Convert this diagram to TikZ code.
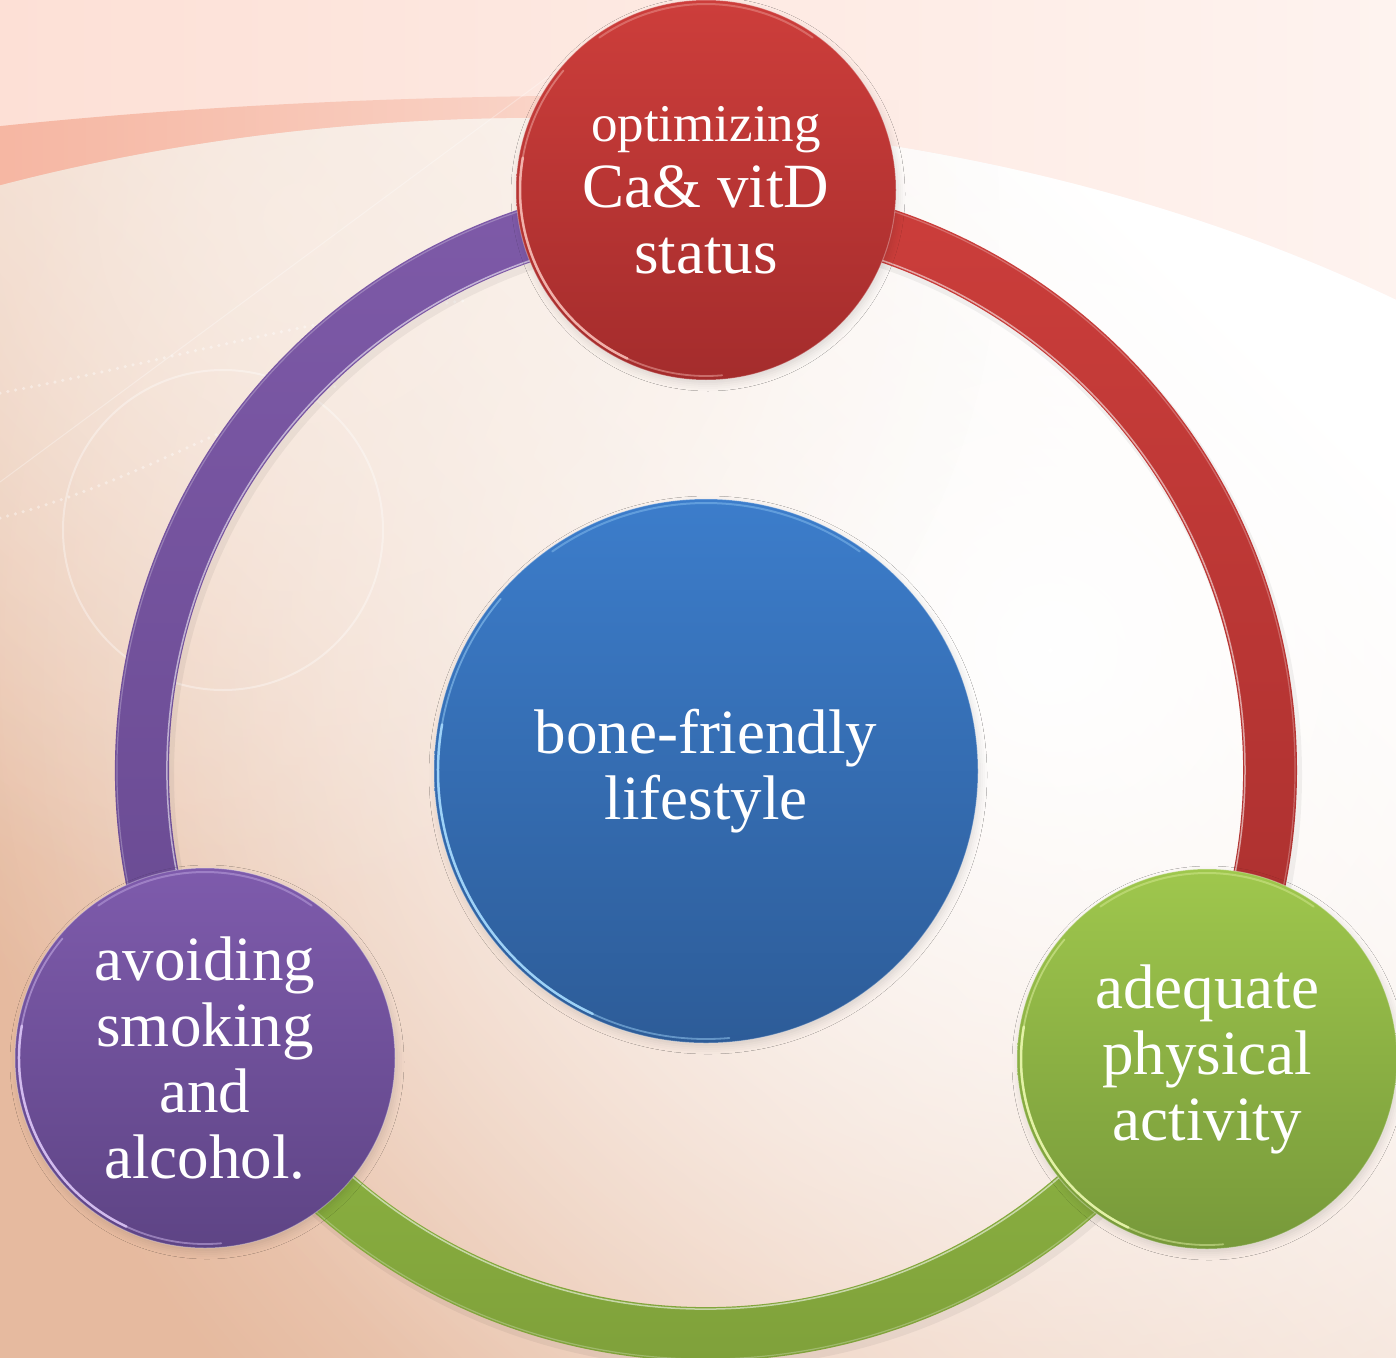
\documentclass[tikz,border=0pt]{standalone}
\usepackage{fontspec}
\setmainfont{Liberation Serif}
\usetikzlibrary{fadings,shadows.blur}

\definecolor{bgTL}{HTML}{FDE0D6}
\definecolor{bgTM}{HTML}{FCD0C2}
\definecolor{bgTR}{HTML}{FEF3EF}
\definecolor{bandC}{HTML}{F6B7A3}
\definecolor{peachC}{HTML}{E6BA9F}
\definecolor{creamC}{HTML}{F9EEE6}
\definecolor{redT}{HTML}{CD3E3B}
\definecolor{redB}{HTML}{A42C2C}
\definecolor{bluT}{HTML}{3C7DCB}
\definecolor{bluB}{HTML}{2D5C98}
\definecolor{purT}{HTML}{7E5BAC}
\definecolor{purB}{HTML}{5E4485}
\definecolor{grnT}{HTML}{9FC74D}
\definecolor{grnB}{HTML}{77993A}
\definecolor{ringRT}{HTML}{CC3E3B}
\definecolor{ringRB}{HTML}{A82F2E}
\definecolor{ringPT}{HTML}{7E5AA8}
\definecolor{ringPB}{HTML}{674990}
\definecolor{ringGT}{HTML}{8FB743}
\definecolor{ringGB}{HTML}{7B9B38}
\definecolor{hlBlue}{HTML}{A8DCFF}
\definecolor{hlRed}{HTML}{F7BDB6}
\definecolor{hlPur}{HTML}{DCC6F7}
\definecolor{hlGrn}{HTML}{ECF9B0}

\tikzfading[name=fadeR, left color=transparent!0, middle color=transparent!25, right color=transparent!100]
\tikzfading[name=glow, inner color=transparent!0, outer color=transparent!100]

\tikzset{
  bubble/.style={circle, inner sep=0pt, draw=white, draw opacity=.3, line width=1pt,
    text=white, align=center, font=\fontsize{63}{66}\selectfont,
    blur shadow={shadow xshift=2pt, shadow yshift=-4pt, shadow blur radius=7pt, shadow opacity=12}},
  small bubble/.style={bubble, minimum size=380pt},
  dotline/.style={white, opacity=.4, line width=3.5pt, line cap=round, dash pattern=on 0pt off 8pt},
  faint/.style={white, opacity=.35, line width=2pt},
}

\newcommand\ringseg[4]{%
  \shade[top color=#3, bottom color=#4] ([shift={(#1:591)}]ctr) arc[start angle=#1, end angle=#2, radius=591]
    -- ([shift={(#2:537)}]ctr) arc[start angle=#2, end angle=#1, radius=537] -- cycle;
  \draw[white, opacity=.55, line width=1.5pt] ([shift={(#1:539)}]ctr) arc[start angle=#1, end angle=#2, radius=539];
  \draw[white, opacity=.25, line width=1.2pt] ([shift={(#1:589)}]ctr) arc[start angle=#1, end angle=#2, radius=589];
}
\newcommand\myrim[3]{%
  \draw[#3, opacity=.85, line width=2.5pt, line cap=round] ([shift={(170:#2)}]#1.center) arc[start angle=170, end angle=245, radius=#2];
  \draw[#3, opacity=.45, line width=1.8pt, line cap=round] ([shift={(140:#2)}]#1.center) arc[start angle=140, end angle=275, radius=#2];
  \draw[#3, opacity=.35, line width=2pt, line cap=round] ([shift={(55:#2)}]#1.center) arc[start angle=55, end angle=125, radius=#2];
}

\begin{document}
\begin{tikzpicture}[x=1pt,y=1pt]
\useasboundingbox (0,0) rectangle (1396,-1357);
\begin{scope}
\clip (0,0) rectangle (1396,-1357);
% background
\shade[left color=bgTL, middle color=bgTM, right color=bgTR] (0,0) rectangle (1396,-1357);
\fill[bandC, path fading=fadeR] (0,-126) .. controls (250,-100) and (550,-88) .. (900,-100) -- (900,-420) -- (0,-420) -- cycle;
\begin{scope}
  \clip (540,-1018) ellipse [x radius=1420, y radius=900];
  \shade[top color=white, bottom color=peachC, shading angle=-45] (0,-100) rectangle (1396,-1357);
  \fill[white, path fading=glow] (1050,-650) circle (1100);
  \fill[creamC, path fading=glow, opacity=.7] (300,-220) circle (700);
\end{scope}
% faint decorations
\draw[dotline] (0,-393) .. controls (150,-365) and (300,-320) .. (470,-300);
\draw[dotline] (0,-518) .. controls (130,-485) and (230,-420) .. (340,-385);
\draw[faint] (223,-530) circle (160);
\draw[white, opacity=.3, line width=1pt] (0,-482) -- (549,-76);

% ring
\coordinate (ctr) at (706,-770);
\draw[black, opacity=.05, line width=58pt] ([shift={(3,-5)}]ctr) circle (564);
\ringseg{90}{-30}{ringRT}{ringRB}
\ringseg{-30}{-150}{ringGT}{ringGB}
\ringseg{-150}{-270}{ringPT}{ringPB}

% circles
\node[bubble, minimum size=544pt, top color=bluT, bottom color=bluB] (hub) at (706,-771)
  {bone-friendly\\lifestyle};
\myrim{hub}{268}{hlBlue}

\node[small bubble, top color=redT, bottom color=redB] (cavd) at (706,-190)
  {{\fontsize{53}{66}\selectfont optimizing}\\Ca\& vitD\\status};
\myrim{cavd}{186}{hlRed}

\node[small bubble, top color=grnT, bottom color=grnB] (phys) at (1207,-1059)
  {adequate\\physical\\activity};
\myrim{phys}{186}{hlGrn}

\node[small bubble, top color=purT, bottom color=purB] (smok) at (205,-1058)
  {avoiding\\smoking\\and\\alcohol.};
\myrim{smok}{186}{hlPur}
\end{scope}
\end{tikzpicture}
\end{document}
